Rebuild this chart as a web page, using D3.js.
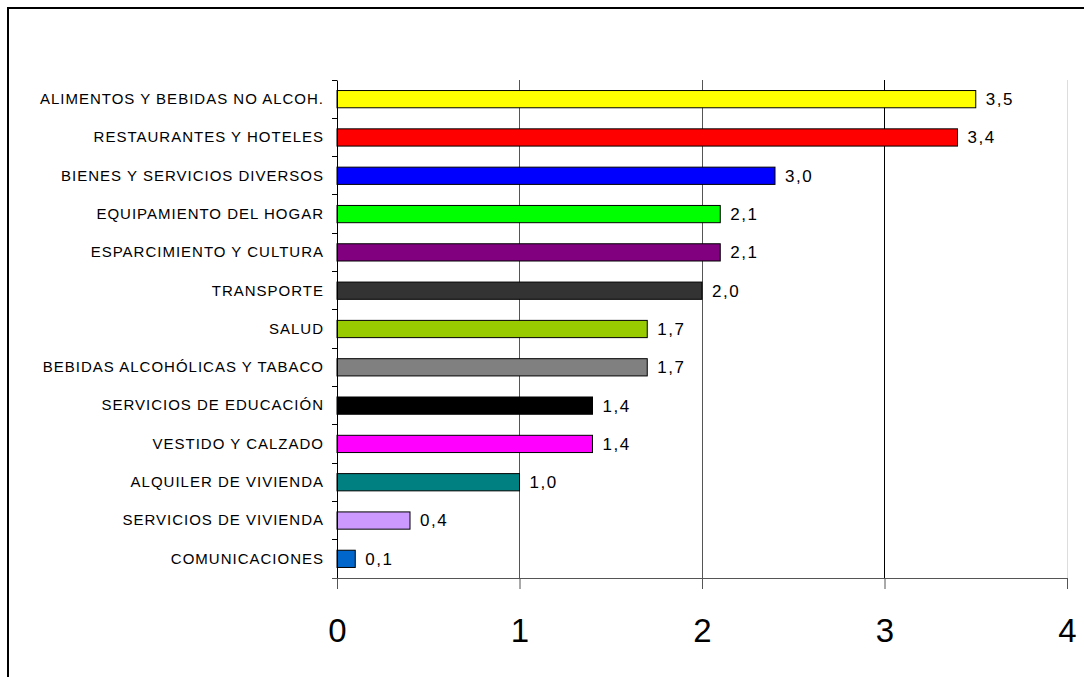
<!DOCTYPE html>
<html><head><meta charset="utf-8">
<script src="https://cdn.jsdelivr.net/npm/d3@7"></script>
<style>body{margin:0;background:#fff}svg{display:block}</style>
</head><body>
<svg id="c" width="1084" height="677"></svg>
<script>
const categories = ["ALIMENTOS Y BEBIDAS NO ALCOH.","RESTAURANTES Y HOTELES","BIENES Y SERVICIOS DIVERSOS","EQUIPAMIENTO DEL HOGAR","ESPARCIMIENTO Y CULTURA","TRANSPORTE","SALUD","BEBIDAS ALCOHÓLICAS Y TABACO","SERVICIOS DE EDUCACIÓN","VESTIDO Y CALZADO","ALQUILER DE VIVIENDA","SERVICIOS DE VIVIENDA","COMUNICACIONES"];
const values = [3.5,3.4,2.4,2.1,2.1,2.0,1.7,1.7,1.4,1.4,1.0,0.4,0.1];
const valueLabels = ["3,5","3,4","3,0","2,1","2,1","2,0","1,7","1,7","1,4","1,4","1,0","0,4","0,1"];
const colors = ["#FFFF00","#FF0000","#0000FF","#00FF00","#800080","#333333","#99CC00","#808080","#000000","#FF00FF","#008080","#CC99FF","#0066CC"];
const xTicks = [0,1,2,3,4];

const svg = d3.select("#c");
// outer frame
svg.append("rect").attr("x",8).attr("y",8).attr("width",1090).attr("height",700)
  .attr("fill","none").attr("stroke","#000").attr("stroke-width",2);

const L=337, R=1067, T=80, B=578;
const x = d3.scaleLinear().domain([0,4]).range([L,R]);
const y = d3.scaleBand().domain(categories).range([T,B]).paddingInner(0.55).paddingOuter(0.275);
const yb = d3.scaleBand().domain(categories).range([T,B]);
const font = "Arial, 'Liberation Sans', sans-serif";

// gridlines
const gridCol = {1:"#555",2:"#555",3:"#000",4:"#ddd"};
svg.append("g").selectAll("line").data(xTicks.filter(d=>d>0)).join("line")
  .attr("x1",d=>x(d)).attr("x2",d=>x(d)).attr("y1",T).attr("y2",B)
  .attr("stroke",d=>gridCol[d]).attr("stroke-width",1).attr("shape-rendering","crispEdges");

// bars
svg.append("g").selectAll("rect").data(categories).join("rect")
  .attr("x",x(0)).attr("y",(d)=>y(d)).attr("height",y.bandwidth())
  .attr("width",(d,i)=>x(values[i])-x(0))
  .attr("fill",(d,i)=>colors[i]).attr("stroke","#000").attr("stroke-width",1);

// value labels
svg.append("g").selectAll("text").data(categories).join("text")
  .attr("x",(d,i)=>x(values[i])+10).attr("y",d=>y(d)+y.bandwidth()/2)
  .attr("dy","0.35em").attr("font-family",font).attr("letter-spacing",1.5)
  .attr("font-size",17).attr("fill","#000").text((d,i)=>valueLabels[i]);

// y axis
const yAxis = d3.axisLeft(yb).tickSize(0).tickPadding(13);
const gy = svg.append("g").attr("transform",`translate(${L},0)`).call(yAxis);
gy.select(".domain").attr("stroke","#000");
gy.selectAll("text").attr("font-family",font).attr("font-size",15).attr("letter-spacing",1.0).attr("fill","#000");
// boundary ticks
svg.append("g").selectAll("line").data(d3.range(categories.length+1)).join("line")
  .attr("x1",L-5).attr("x2",L).attr("y1",i=>T+i*yb.step()).attr("y2",i=>T+i*yb.step())
  .attr("stroke","#000").attr("shape-rendering","crispEdges");

// x axis
const xAxis = d3.axisBottom(x).tickValues(xTicks).tickSize(11).tickPadding(30).tickFormat(d3.format("d"));
const gx = svg.append("g").attr("transform",`translate(0,${B})`).call(xAxis);
gx.select(".domain").attr("stroke","#555").attr("d",`M${L-5},0.5H${R}`);
gx.selectAll(".tick line").attr("stroke","#555");
gx.selectAll("text").attr("font-family",font).attr("font-size",33).attr("fill","#000");
</script>
</body></html>
